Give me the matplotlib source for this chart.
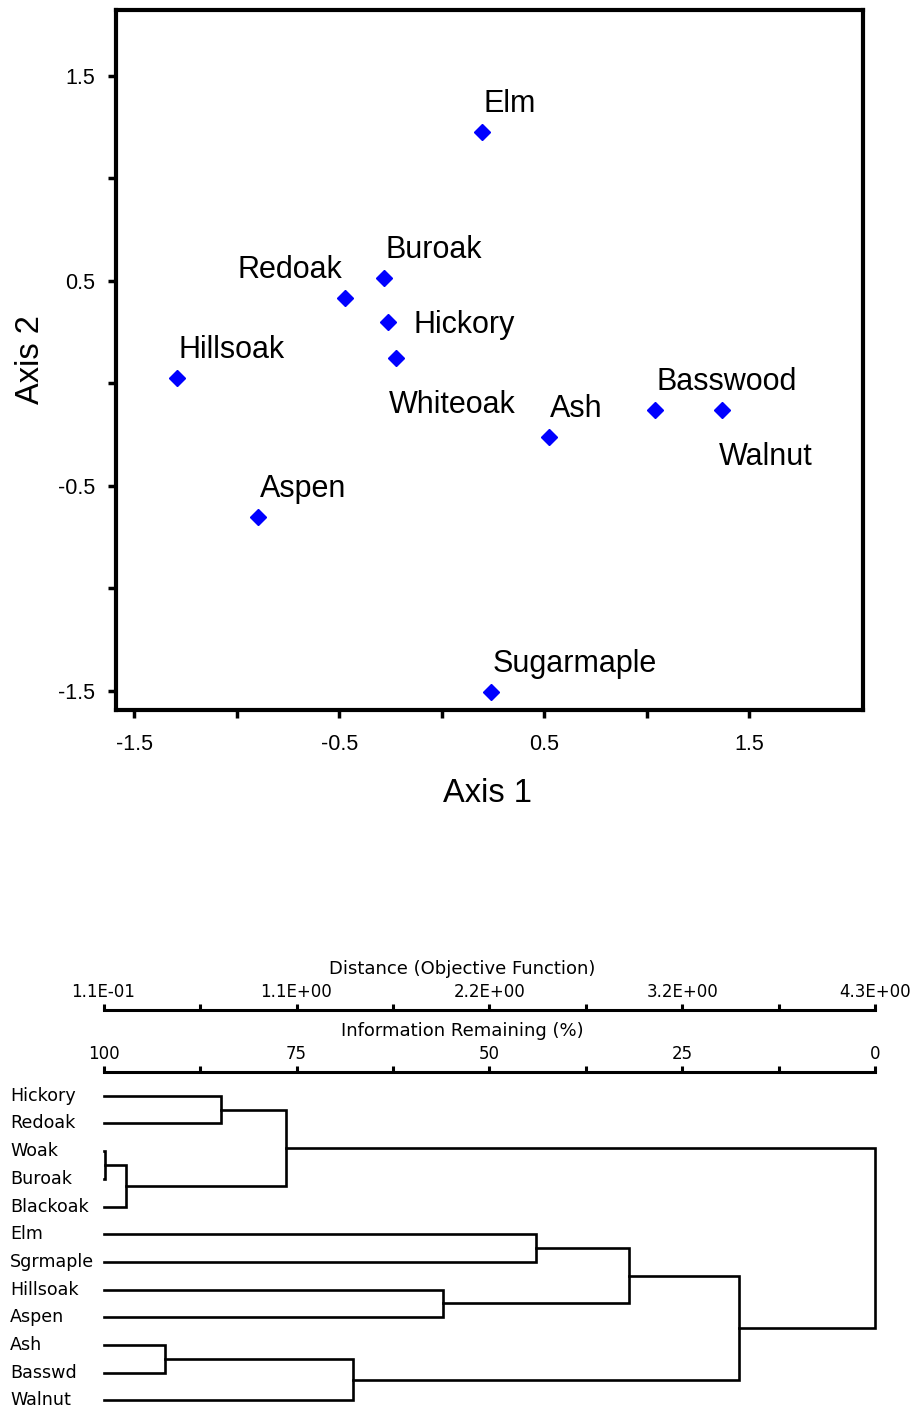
import matplotlib
matplotlib.use("Agg")
import matplotlib.pyplot as plt

plt.rcParams["axes.unicode_minus"] = False
plt.rcParams["font.family"] = ["Liberation Sans", "DejaVu Sans"]

# NMS ordination scores
species = ["Elm", "Buroak", "Redoak", "Hickory", "Whiteoak", "Hillsoak",
           "Ash", "Basswood", "Walnut", "Aspen", "Sugarmaple"]
axis1 = [0.196, -0.280, -0.472, -0.261, -0.225, -1.293,
         0.521, 1.038, 1.369, -0.897, 0.240]
axis2 = [1.227, 0.513, 0.416, 0.301, 0.123, 0.028,
         -0.262, -0.131, -0.131, -0.651, -1.506]
major_ticks = [-1.5, -0.5, 0.5, 1.5]
minor_ticks = [-1.0, 0.0, 1.0]

# cluster analysis: leaves in plotting order, merges as (cluster a, cluster b, % info)
leaves = ["Hickory", "Redoak", "Woak", "Buroak", "Blackoak", "Elm",
          "Sgrmaple", "Hillsoak", "Aspen", "Ash", "Basswd", "Walnut"]
merge_a = [0, 2, 13, 12, 5, 7, 16, 9, 19, 18, 15]
merge_b = [1, 3, 4, 14, 6, 8, 17, 10, 11, 20, 21]
merge_info = [84.8, 99.85, 97.05, 76.3, 43.98, 56.06, 31.89, 92.03, 67.64, 17.72, 0.0]

info_ticks = [100, 75, 50, 25, 0]
info_minor = [87.5, 62.5, 37.5, 12.5]
info_labels = ["100", "75", "50", "25", "0"]
dist_labels = ["1.1E-01", "1.1E+00", "2.2E+00", "3.2E+00", "4.3E+00"]

W, H = 916, 1409
fig = plt.figure(figsize=(W / 100, H / 100), dpi=100)


def px_axes(left, top, right, bottom):
    return fig.add_axes([left / W, 1 - bottom / H, (right - left) / W, (bottom - top) / H])


# ---- ordination scatter ----
ax = px_axes(115.5, 9.5, 863, 710)
ax.set_xlim(-1.592, 2.055)
ax.set_ylim(-1.593, 1.824)
for sp in ax.spines.values():
    sp.set_linewidth(3)
    sp.set_capstyle("projecting")
ax.set_xticks(major_ticks)
ax.set_xticks(minor_ticks, minor=True)
ax.set_yticks(major_ticks)
ax.set_yticks(minor_ticks, minor=True)
ax.tick_params(which="both", direction="out", length=6, width=2.5, labelsize=15.5)
ax.tick_params(axis="x", pad=11.5)
ax.tick_params(axis="y", pad=8.5)

ax.plot(axis1, axis2, ls="none", marker="D", ms=8.2, color="#0000ff", mec="#0000ff")

label_offsets = {"Redoak": (-2.7, 20, "right"), "Hickory": (25, -11, "left"),
                 "Whiteoak": (-6.5, -55, "left"), "Walnut": (-4, -55, "left")}
for name, x, y in zip(species, axis1, axis2):
    dx, dy, ha = label_offsets.get(name, (1.5, 20, "left"))
    ax.annotate(name, (x, y), xytext=(dx, dy), textcoords="offset pixels",
                ha=ha, va="baseline", fontsize=22)

ax.set_xlabel("Axis 1", fontsize=23.5)
ax.xaxis.set_label_coords(0.4977, (710 - 802) / 700.5)
ax.xaxis.label.set_va("baseline")
ax.set_ylabel("Axis 2", fontsize=23.5)
ax.yaxis.set_label_coords((39.3 - 115.5) / 747.5, 0.5004)
ax.yaxis.label.set_rotation_mode("anchor")
ax.yaxis.label.set_va("baseline")

# ---- dendrogram scales ----
dend_font = ["DejaVu Sans"]


def scale_axes(line_y, labels, title, title_base):
    sax = px_axes(103.5, line_y, 875.5, line_y + 10)
    sax.patch.set_visible(False)
    sax.set_xlim(100, 0)
    sax.set_yticks([])
    for side in ("bottom", "left", "right"):
        sax.spines[side].set_visible(False)
    sax.spines["top"].set_linewidth(2.2)
    sax.xaxis.tick_top()
    sax.set_xticks(info_ticks, labels, fontsize=12, family=dend_font)
    sax.set_xticks(info_minor, minor=True)
    sax.tick_params(which="both", direction="out", length=4.5, width=2.2, pad=1.5)
    sax.xaxis.set_label_position("top")
    sax.set_xlabel(title, fontsize=13, family=dend_font)
    sax.xaxis.set_label_coords((462.5 - 103.5) / 772, (line_y + 10 - title_base) / 10)
    sax.xaxis.label.set_va("baseline")
    return sax


scale_axes(1009.6, dist_labels, "Distance (Objective Function)", 974)
scale_axes(1071.7, info_labels, "Information Remaining (%)", 1036)

# ---- dendrogram tree ----
tax = px_axes(103.5, 1081.85, 875.5, 1409)
tax.set_xlim(100, 0)
tax.set_ylim(11.31, -0.5)
tax.axis("off")

pos = {i: (100.0, float(i)) for i in range(len(leaves))}
for k, (a, b, h) in enumerate(zip(merge_a, merge_b, merge_info)):
    xa, ya = pos[a]
    xb, yb = pos[b]
    tax.plot([xa, h, h, xb], [ya, ya, yb, yb], color="black", lw=1.9,
             solid_joinstyle="miter", clip_on=False)
    pos[len(leaves) + k] = (h, (ya + yb) / 2)

for i, name in enumerate(leaves):
    tax.annotate(name, xy=(10 / W, i), xycoords=("figure fraction", "data"),
                 xytext=(0, -5), textcoords="offset pixels",
                 ha="left", va="baseline", fontsize=12.6, family=dend_font)

fig.savefig("out.png", dpi=100)
